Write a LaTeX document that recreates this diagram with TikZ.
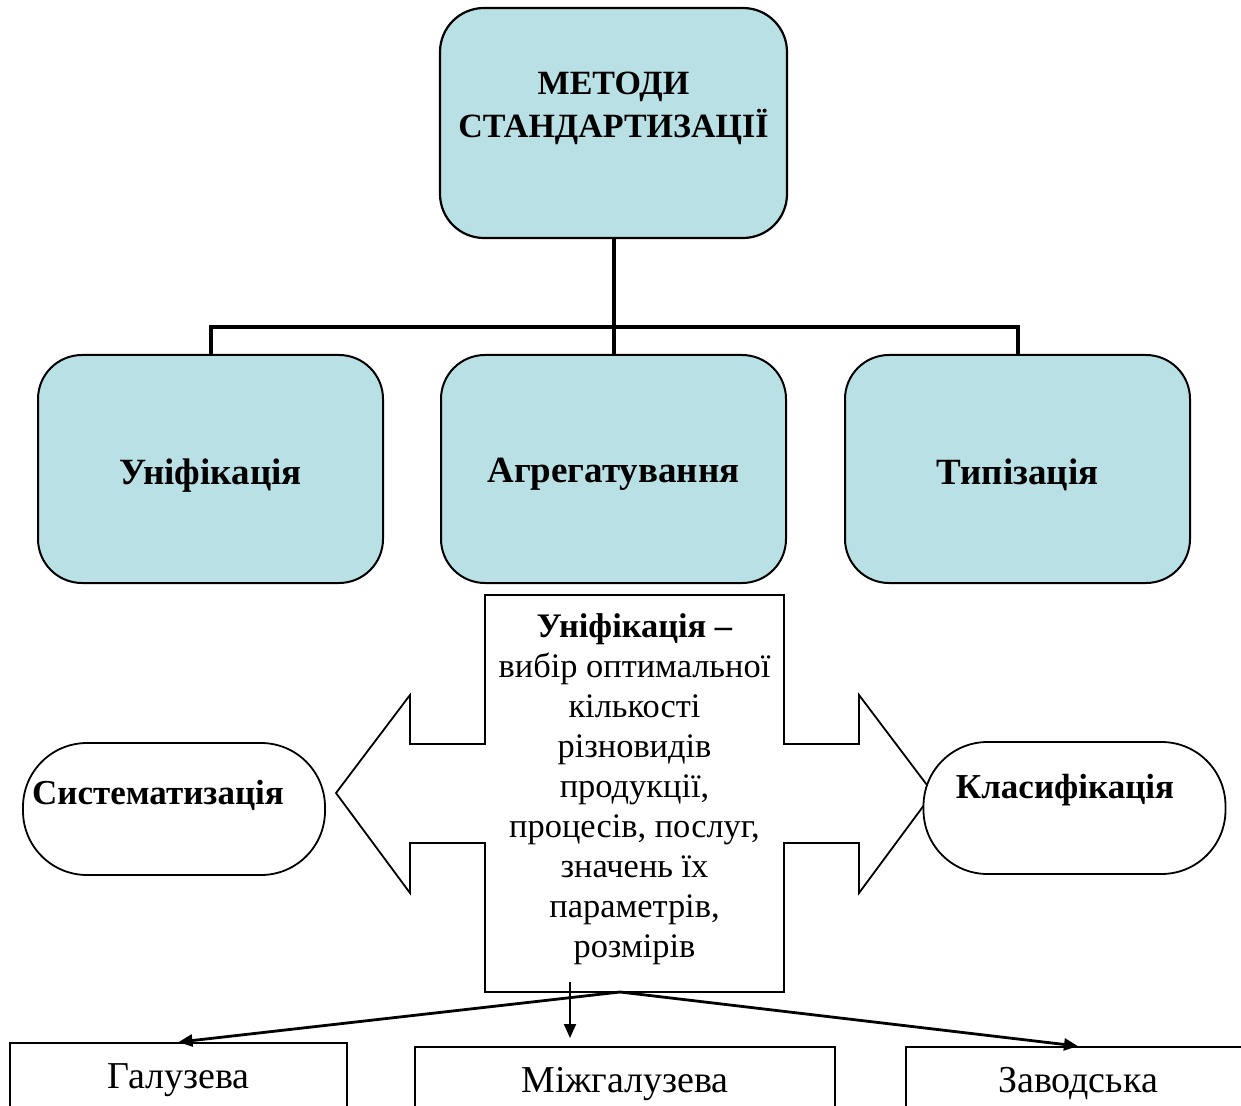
\documentclass[tikz,border=0pt]{standalone}
\usepackage{fontspec}
\setmainfont{Liberation Serif}
\usetikzlibrary{arrows.meta}
\definecolor{boxblue}{RGB}{185,224,228}

\begin{document}
\begin{tikzpicture}
  [
    x=0.5pt, y=-0.5pt,
    % estilos de las cajas para no repetir codigo
    topbox/.style={draw, line width=1.1pt, fill=boxblue, rounded corners=22pt, minimum width=173.5pt, minimum height=115pt},
    method/.style={draw, line width=1pt, fill=boxblue, rounded corners=22pt, minimum width=172.5pt, minimum height=114pt, text height=16pt, text depth=0pt, font=\fontsize{18.5}{22}\selectfont\bfseries},
    stadium/.style={draw, line width=0.9pt, fill=white, rounded corners=32pt, minimum width=151pt, minimum height=66pt},
    kind/.style={draw, line width=0.9pt, fill=white, minimum height=37pt, font=\fontsize{19}{22}\selectfont},
    tree/.style={line width=2pt},
    arr/.style={line width=1.4pt, -{Triangle[length=7pt, width=6pt]}}
  ]
  \clip (0,0) rectangle (1241,1106);
  \useasboundingbox (0,0) rectangle (1241,1106);

  % caja superior
  \node[topbox] (methods) at (613.5,123) {};
  \node[font=\fontsize{17}{21.5}\selectfont\bfseries, align=center] (methodsname) at (613.5,108) {МЕТОДИ\\СТАНДАРТИЗАЦІЇ};

  % metodos
  \node[method] (unif) at (210.5,469) {Уніфікація};
  \node[method, text height=14pt] (aggr) at (613.5,469) {Агрегатування};
  \node[method] (typ) at (1017.5,469) {Типізація};
  \coordinate (fork) at (613.5,327);
  \draw[tree] (methods.south) -- (aggr.north);
  \draw[tree] (unif.north) |- (fork) -| (typ.north);

  % flecha doble
  \draw[line width=0.9pt, fill=white] (485,595) -- (784,595) -- (784,744) -- (859,744) -- (859,695)
    -- (933,793) -- (859,893) -- (859,843) -- (784,843) -- (784,992) -- (485,992) -- (485,843)
    -- (410,843) -- (410,893) -- (336,793) -- (410,695) -- (410,744) -- (485,744) -- cycle;
  \node[font=\fontsize{17.2}{20}\selectfont, align=center] (unifdef) at (634.5,789)
    {\textbf{Уніфікація –}\\вибір оптимальної\\кількості\\різновидів\\продукції,\\процесів, послуг,\\значень їх\\параметрів,\\розмірів};

  % ovalos
  \node[stadium] (syst) at (174,809) {};
  \node[font=\fontsize{17.5}{21}\selectfont\bfseries] (systname) at (158,795) {Систематизація};
  \node[stadium] (klas) at (1074.5,808) {};
  \node[font=\fontsize{17.5}{21}\selectfont\bfseries] (klasname) at (1065,790) {Класифікація};

  % tipos
  \node[kind, minimum width=168.5pt] (galuz) at (178.5,1080) {Галузева};
  \node[kind, minimum width=210pt] (mizh) at (625,1084) {Міжгалузева};
  \node[kind, minimum width=172pt] (zavod) at (1078,1084) {Заводська};
  \coordinate (unifbot) at (620,992);
  \coordinate (midtop) at (570,982);
  \coordinate (midend) at (570,1038);
  \draw[arr] (unifbot) -- (galuz.north);
  \draw[arr] (unifbot) -- (zavod.north);
  \draw[arr, line width=1pt] (midtop) -- (midend);

\end{tikzpicture}
\end{document}
